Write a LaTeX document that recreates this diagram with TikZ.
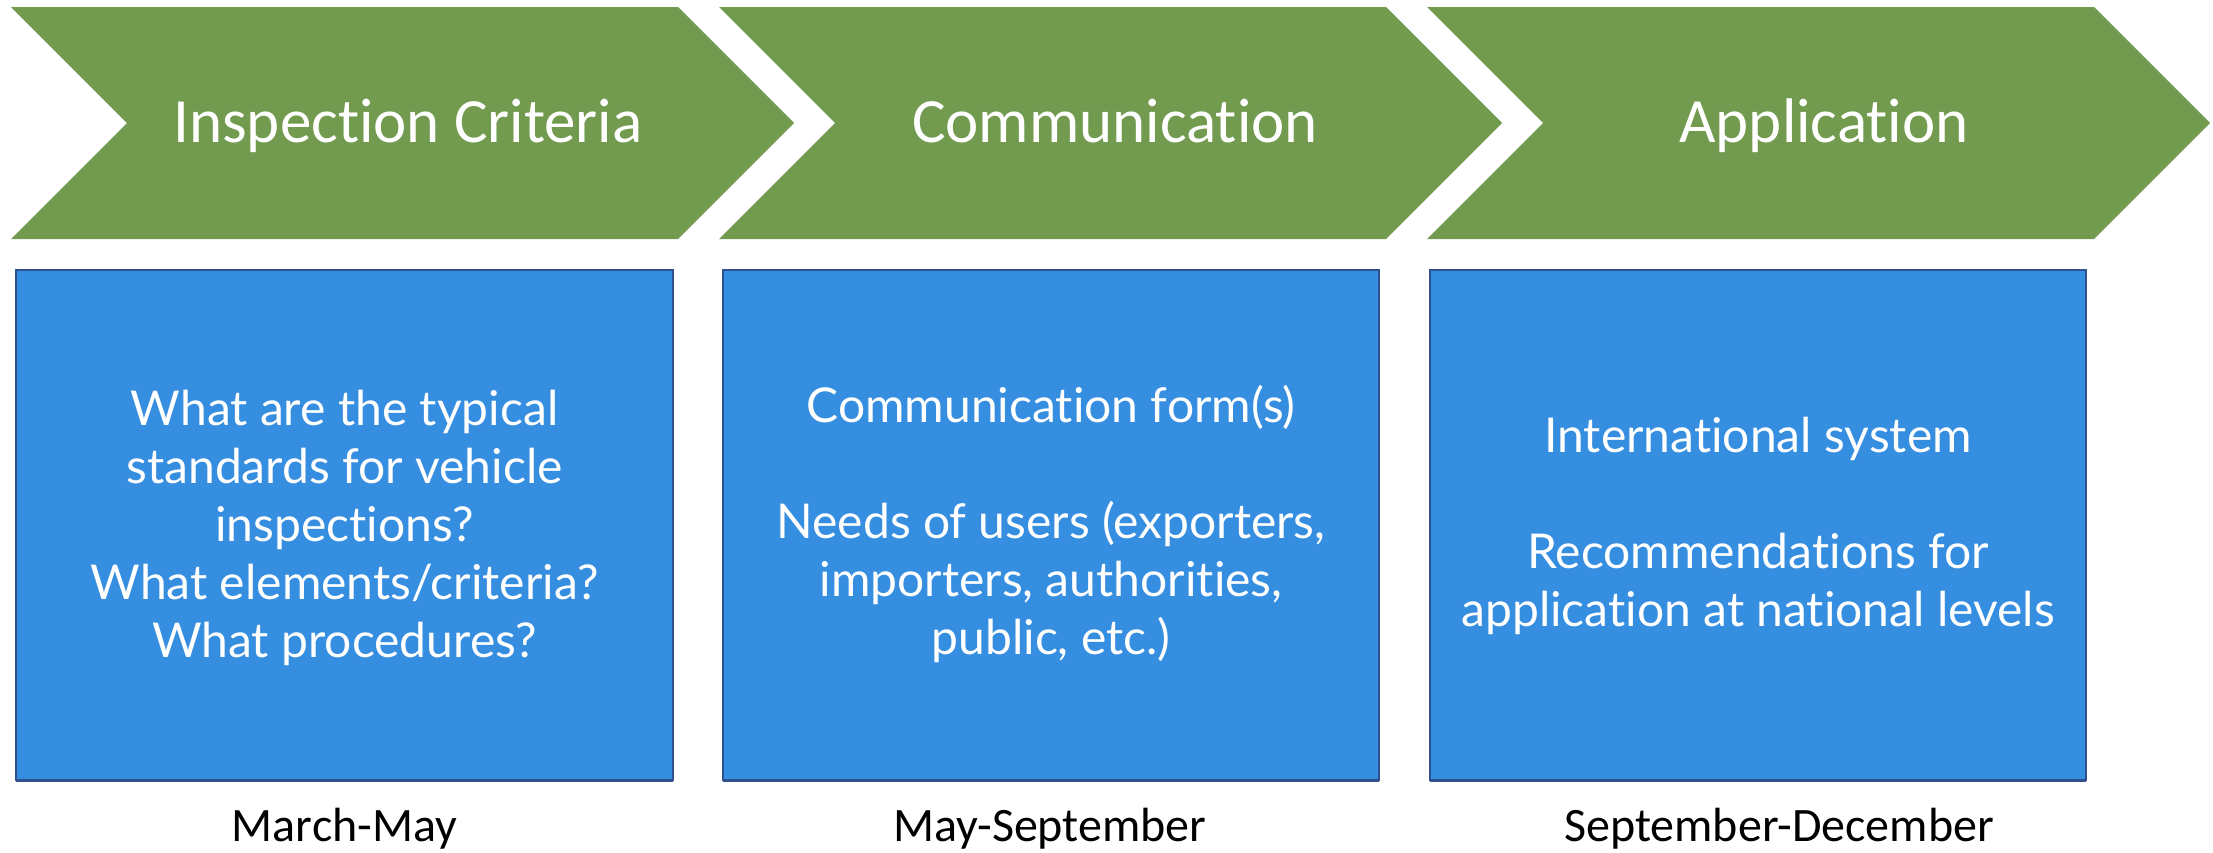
\documentclass[tikz,border=0pt]{standalone}
\usepackage{fontspec}
\setmainfont[Ligatures={NoCommon,NoContextual,NoRare}]{Carlito}
\newfontfamily\boxfont[Ligatures={NoCommon,NoContextual,NoRare}]{Lato}
\definecolor{chevgreen}{HTML}{739B4F}
\definecolor{boxblue}{HTML}{368EE0}
\definecolor{boxedge}{HTML}{2F528F}
\begin{document}
\begin{tikzpicture}[x=1pt,y=-1pt,
  chev/.style={fill=chevgreen,draw=none},
  chevtext/.style={text=white,font=\fontsize{63}{70}\selectfont,anchor=base,inner sep=0pt},
  bluebox/.style={fill=boxblue,draw=boxedge,line width=2pt},
  boxtext/.style={text=white,align=center,font=\boxfont\fontsize{48}{58}\selectfont,anchor=center},
  datetext/.style={text=black,font=\fontsize{48}{56}\selectfont,anchor=base,inner sep=0pt}]
\useasboundingbox (0,0) rectangle (2213,852);
\fill[white] (0,0) rectangle (2213,852);
% chevrons
\foreach \n/\x in {1/11,2/719,3/1427}{
  \fill[chev] (\x,7) -- (\x+667,7) -- (\x+783,123) -- (\x+667,239) -- (\x,239) -- (\x+116,123) -- cycle;
}
\node[chevtext] (t1) at (408,142) {Inspection Criteria};
\node[chevtext] (t2) at (1115,142) {Communication};
\node[chevtext] (t3) at (1824,142) {Application};
% boxes
\draw[bluebox] (16,270) rectangle (673,780);
\draw[bluebox] (723,270) rectangle (1379,780);
\draw[bluebox] (1430,270) rectangle (2086,780);
\draw[boxedge,line width=3pt] (16,780) -- (673,780);
\draw[boxedge,line width=3pt] (723,780) -- (1379,780);
\draw[boxedge,line width=3pt] (1430,780) -- (2086,780);
\node[boxtext] (b1) at (344.5,528) {What are the typical\\standards for vehicle\\inspections?\\What elements/criteria?\\What procedures?};
\node[boxtext] (b2) at (1051,524) {Communication form(s)\\[58pt]Needs of users (exporters,\\importers, authorities,\\public, etc.)};
\node[boxtext] (b3) at (1758,526) {International system\\[58pt]Recommendations for\\application at national levels};
% dates
\node[datetext] (d1) at (344.5,841) {March-May};
\node[datetext] (d2) at (1050,841) {May-September};
\node[datetext] (d3) at (1779,841) {September-December};
\end{tikzpicture}
\end{document}
